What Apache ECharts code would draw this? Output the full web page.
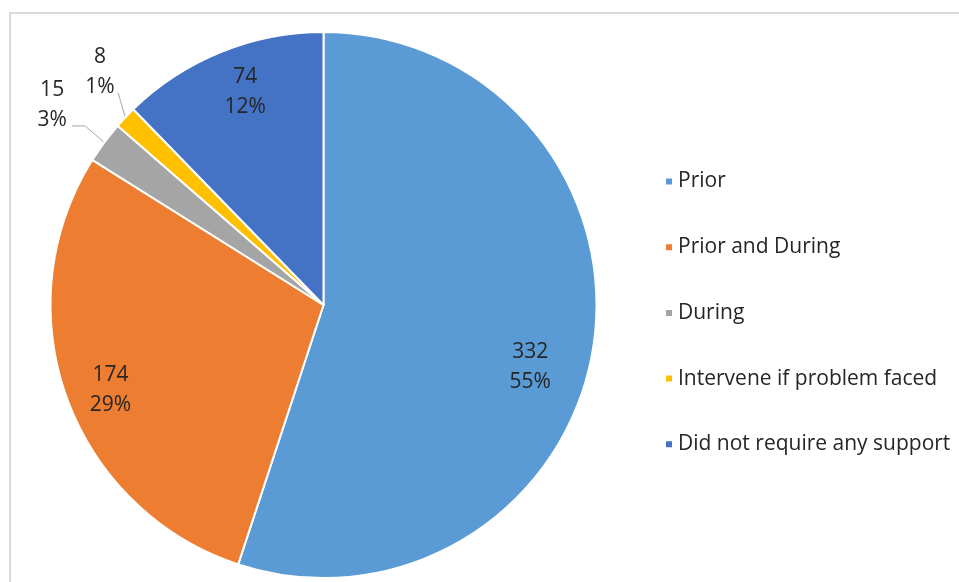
<!DOCTYPE html>
<html>
<head>
<meta charset="utf-8">
<script src="https://cdn.jsdelivr.net/npm/echarts@6/dist/echarts.min.js"></script>
<style>
  html, body { margin: 0; padding: 0; background: #fff; }
  #chart { width: 959px; height: 582px; }
</style>
</head>
<body>
<div id="chart"></div>
<script>
// Support categories and respondent counts
const categories = ['Prior', 'Prior and During', 'During', 'Intervene if problem faced', 'Did not require any support'];
const counts = [332, 174, 15, 8, 74];
const colors = ['#5B9BD5', '#ED7D31', '#A5A5A5', '#FFC000', '#4472C4'];

// Label placement around the pie: [angle in degrees (counter-clockwise from 3 o'clock), distance as a fraction of the radius]
const labelSpots = [[-16.6, 0.79], [201.7, 0.84], [143.6, 1.235], [133.8, 1.183], [110.2, 0.83]];
const outsideLabels = [false, false, true, true, false];

const CX = 323.5, CY = 305, R = 273;
const FONT = '"Open Sans", sans-serif';
const TEXT = '#262626';

const total = counts.reduce((a, b) => a + b, 0);
function midAngle(i) {
  let before = 0;
  for (let k = 0; k < i; k++) before += counts[k];
  const frac = (before + counts[i] / 2) / total;
  return (90 - frac * 360) * Math.PI / 180;
}

const chart = echarts.init(document.getElementById('chart'), null, { renderer: 'canvas' });

chart.setOption({
  animation: false,
  backgroundColor: '#fff',
  color: colors,
  graphic: [{
    type: 'rect',
    shape: { x: 10, y: 13, width: 960, height: 600 },
    style: { fill: 'none', stroke: '#d9d9d9', lineWidth: 2 },
    silent: true
  }],
  legend: {
    orient: 'vertical',
    left: 659,
    top: 161.5,
    icon: 'rect',
    itemWidth: 8,
    itemHeight: 8,
    itemGap: 35.7,
    data: categories,
    textStyle: { fontFamily: FONT, fontSize: 21, color: TEXT, lineHeight: 30 }
  },
  series: [{
    type: 'pie',
    center: [CX, CY],
    radius: R,
    startAngle: 90,
    clockwise: true,
    percentPrecision: 0,
    itemStyle: { borderColor: '#fff', borderWidth: 2 },
    label: {
      show: true,
      formatter: '{c}\n{d}%',
      fontFamily: FONT,
      fontSize: 21,
      lineHeight: 30,
      color: TEXT,
      align: 'center',
      overflow: 'none'
    },
    labelLine: { show: true, lineStyle: { color: '#a6a6a6', width: 1 } },
    labelLayout: function (params) {
      const i = params.dataIndex;
      const a = labelSpots[i][0] * Math.PI / 180;
      const x = CX + R * labelSpots[i][1] * Math.cos(a);
      const y = CY - R * labelSpots[i][1] * Math.sin(a);
      const out = { x: x, y: y, align: 'center', verticalAlign: 'middle' };
      if (outsideLabels[i]) {
        const m = midAngle(i);
        const ex = CX + R * Math.cos(m), ey = CY - R * Math.sin(m);
        if (i === 2) {
          const sx = x + 20, sy = y + 21;
          out.labelLinePoints = [[sx, sy], [sx + 13, sy], [ex, ey]];
        } else {
          const sx = x + 18, sy = y + 21;
          out.labelLinePoints = [[sx, sy], [sx + 0.5, sy + 1], [ex, ey]];
        }
      }
      return out;
    },
    data: categories.map((name, i) => ({
      name: name,
      value: counts[i],
      label: { position: outsideLabels[i] ? 'outside' : 'inside' },
      labelLine: { show: outsideLabels[i] }
    }))
  }]
});
</script>
</body>
</html>
